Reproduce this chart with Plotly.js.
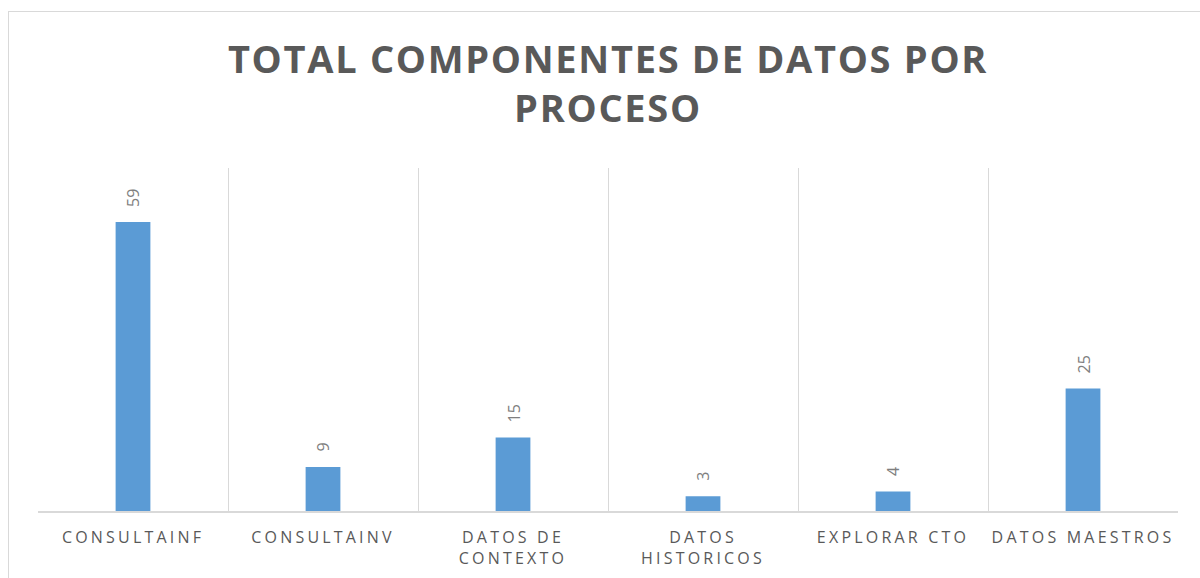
<!DOCTYPE html>
<html>
<head>
<meta charset="utf-8">
<script src="https://cdn.plot.ly/plotly-3.0.1.min.js"></script>
<style>
  html, body { margin: 0; padding: 0; background: #fff; }
  #wrap { position: relative; width: 1200px; height: 578px; overflow: hidden; }
  #frame { position: absolute; left: 8px; top: 11px; width: 1300px; height: 700px; border: 1px solid #d9d9d9; box-sizing: border-box; pointer-events: none; z-index: 2; }
  #chart { position: absolute; left: 0; top: 0; width: 1200px; height: 578px; }
  #chart .xtick text { letter-spacing: 3.2px; }
  #chart .gtitle { letter-spacing: 1.7px; }
</style>
</head>
<body>
<div id="wrap">
  <div id="chart"></div>
  <div id="frame"></div>
</div>
<script>
const categories = ["CONSULTAINF", "CONSULTAINV", "DATOS DE<br>CONTEXTO", "DATOS<br>HISTORICOS", "EXPLORAR CTO", "DATOS MAESTROS"];
const values = [59, 9, 15, 3, 4, 25];
const titleText = "TOTAL COMPONENTES DE DATOS POR<br>PROCESO";

const trace = {
  type: "bar",
  x: categories,
  y: values,
  marker: { color: "#5b9bd5", line: { width: 0 } },
  width: 0.183,
  hoverinfo: "skip"
};

const annotations = categories.map((c, i) => ({
  x: c, y: values[i], xref: "x", yref: "y",
  text: String(values[i]),
  showarrow: false,
  textangle: -90,
  yanchor: "bottom",
  xanchor: "center",
  yshift: 13,
  font: { family: "Open Sans", size: 16, color: "#7f7f7f" }
}));

const layout = {
  width: 1200, height: 578,
  margin: { l: 38, r: 22, t: 168, b: 66.5 },
  paper_bgcolor: "rgba(0,0,0,0)",
  plot_bgcolor: "rgba(0,0,0,0)",
  showlegend: false,
  title: {
    text: titleText,
    font: { family: "Open Sans", size: 38, color: "#595959", weight: 700 },
    x: 0.5, xref: "paper", xanchor: "center",
    y: 1 - 73 / 578, yref: "container", yanchor: "top"
  },
  xaxis: {
    type: "category",
    tickson: "boundaries",
    showgrid: true, gridcolor: "#d9d9d9", gridwidth: 1,
    showline: true, linecolor: "#d9d9d9", linewidth: 1.5,
    ticks: "",
    ticklabelstandoff: 11,
    tickfont: { family: "Open Sans", size: 16, color: "#595959" },
    fixedrange: true
  },
  yaxis: {
    range: [0, 70],
    showgrid: false, zeroline: false, showticklabels: false, showline: false,
    fixedrange: true
  },
  annotations: annotations
};

Plotly.newPlot("chart", [trace], layout, { staticPlot: true });
</script>
</body>
</html>
